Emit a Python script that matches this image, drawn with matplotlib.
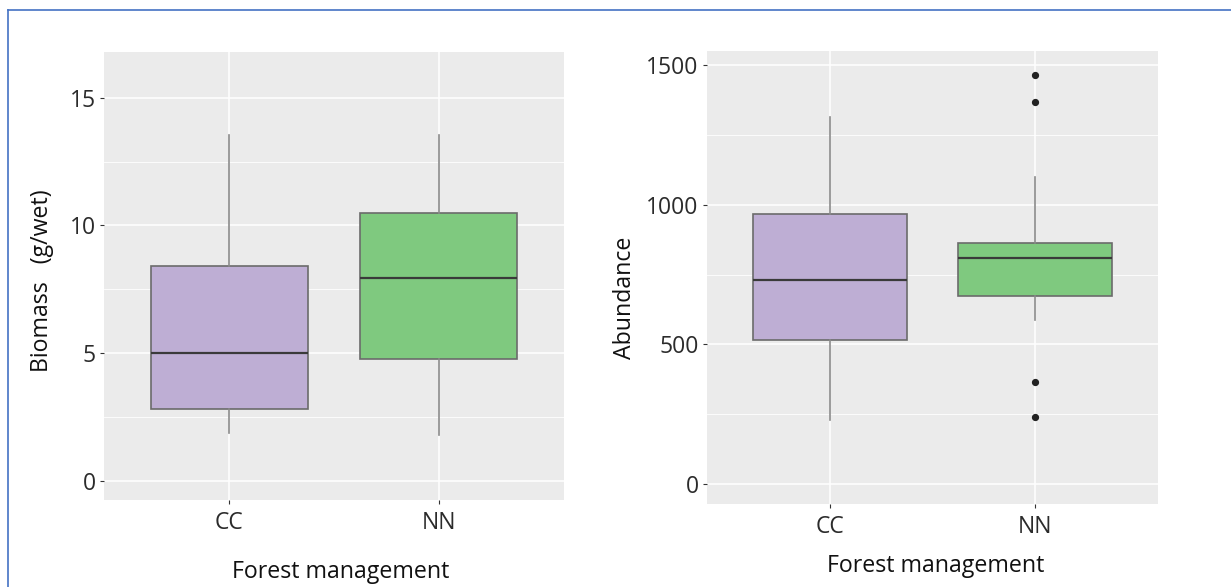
import matplotlib
matplotlib.use("Agg")
import matplotlib.pyplot as plt
from matplotlib.lines import Line2D
from matplotlib.ticker import MultipleLocator

plt.rcParams['font.family'] = ['Open Sans', 'DejaVu Sans']

# ---- data -------------------------------------------------------------
categories = ["CC", "NN"]
box_colors = ["#beaed4", "#7fc97f"]

biomass_whislo = [1.85, 1.80]
biomass_q1 = [2.80, 4.77]
biomass_med = [5.00, 7.95]
biomass_q3 = [8.40, 10.50]
biomass_whishi = [13.55, 13.55]
biomass_fliers = [[], []]

abundance_whislo = [230, 586]
abundance_q1 = [516, 674]
abundance_med = [730, 809]
abundance_q3 = [967, 862]
abundance_whishi = [1315, 1101]
abundance_fliers = [[], [1464, 1369, 367, 240]]

x_title = "Forest management"
biomass_title = "Biomass   (g/wet)"
abundance_title = "Abundance"

W, H = 1231, 587
fig = plt.figure(figsize=(W / 100, H / 100), dpi=100)
fig.patch.set_facecolor("white")


def axes_px(left, top, right, bottom):
    return fig.add_axes([left / W, 1 - bottom / H, (right - left) / W, (bottom - top) / H])


def draw_panel(ax, lo, q1, med, q3, hi, fliers, ylim, major, minor, ylabel,
               ylab_xy, xlab_xy):
    stats = []
    for i in range(len(categories)):
        stats.append(dict(med=med[i], q1=q1[i], q3=q3[i], whislo=lo[i],
                          whishi=hi[i], fliers=fliers[i], label=categories[i]))
    pos = list(range(1, len(categories) + 1))
    parts = ax.bxp(stats, positions=pos, widths=0.75, patch_artist=True,
                   showcaps=False, zorder=3,
                   boxprops=dict(edgecolor="#6b6b6b", linewidth=1.2),
                   medianprops=dict(color="#3a3a3a", linewidth=1.6),
                   whiskerprops=dict(color="#8a8a8a", linewidth=1.2),
                   flierprops=dict(marker="o", markersize=4.2,
                                   markerfacecolor="#222222",
                                   markeredgecolor="#222222"))
    for patch, c in zip(parts["boxes"], box_colors):
        patch.set_facecolor(c)

    ax.set_xlim(0.4, len(categories) + 0.6)
    ax.set_ylim(*ylim)
    ax.set_facecolor("#ebebeb")
    for s in ax.spines.values():
        s.set_visible(False)
    ax.yaxis.set_major_locator(MultipleLocator(major))
    ax.yaxis.set_minor_locator(MultipleLocator(minor))
    ax.grid(which="major", color="white", linewidth=1.1, zorder=0)
    ax.grid(which="minor", axis="y", color="white", linewidth=0.6, zorder=0)
    ax.set_axisbelow(True)
    ax.tick_params(which="major", length=3, width=0.8, color="#333333",
                   labelsize=16.5, labelcolor="#2b2b2b", pad=3)
    ax.tick_params(axis="x", pad=5)
    ax.tick_params(which="minor", length=0)
    ax.set_xticks(pos)
    ax.set_xticklabels(categories)

    ax.set_ylabel(ylabel, fontsize=16.7, color="#111111", va="center", ha="center")
    ax.yaxis.set_label_coords(*ylab_xy)
    ax.text(xlab_xy[0], xlab_xy[1], x_title, transform=ax.transAxes,
            fontsize=16.7, color="#111111", ha="center", va="baseline")


ax1 = axes_px(104, 52, 564, 500)
draw_panel(ax1, biomass_whislo, biomass_q1, biomass_med, biomass_q3,
           biomass_whishi, biomass_fliers, (-0.76, 16.8), 5, 2.5,
           biomass_title, (-0.135, 0.489), (0.514, -0.175))

ax2 = axes_px(707, 51, 1158, 504)
draw_panel(ax2, abundance_whislo, abundance_q1, abundance_med, abundance_q3,
           abundance_whishi, abundance_fliers, (-71.6, 1551), 500, 250,
           abundance_title, (-0.182, 0.456), (0.507, -0.150))

# frame lines along the top and left edges
border = "#4472c4"
fig.add_artist(Line2D([7.5 / W, 1.0], [1 - 10 / H, 1 - 10 / H],
                      transform=fig.transFigure, color=border, linewidth=1.2))
fig.add_artist(Line2D([7.5 / W, 7.5 / W], [0.0, 1 - 10 / H],
                      transform=fig.transFigure, color=border, linewidth=1.2))

fig.savefig("out.png", dpi=100, facecolor="white")
